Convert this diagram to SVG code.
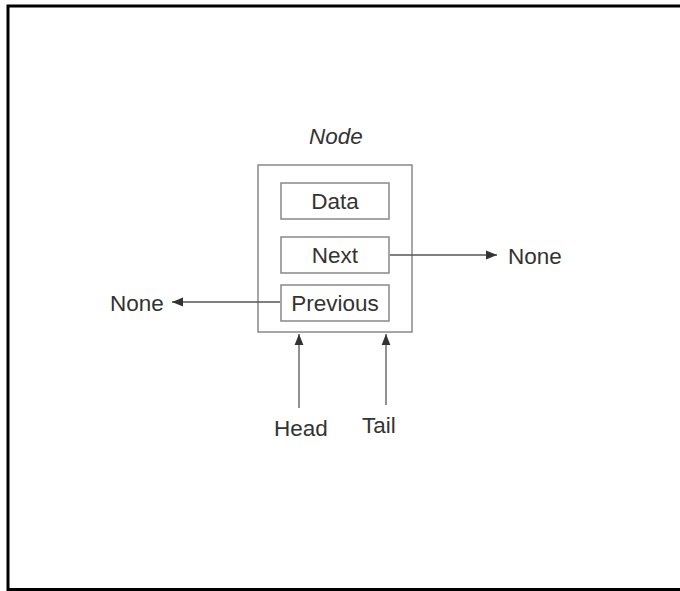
<svg xmlns="http://www.w3.org/2000/svg" width="680" height="591" viewBox="0 0 680 591">
<defs>
<style>
text{font-family:"Liberation Sans",Arial,sans-serif;font-size:22.5px;fill:#333}
.box{fill:#fff;stroke:#888;stroke-width:1.5}
.ln{stroke:#555;stroke-width:1.3;fill:none}
</style>
<marker id="ah" viewBox="0 0 10 10" refX="10" refY="5" markerWidth="11" markerHeight="11" markerUnits="userSpaceOnUse" orient="auto">
<path d="M0,1 L10,5 L0,9 Z" fill="#333"/>
</marker>
</defs>
<rect width="680" height="591" fill="#fff"/>
<path d="M8,591 V6 H680 M8,589.5 H680" fill="none" stroke="#000" stroke-width="3"/>
<g id="node">
<rect class="box" x="258" y="165" width="154" height="167"/>
<text x="336" y="144" text-anchor="middle" font-style="italic">Node</text>
</g>
<g id="data">
<rect class="box" x="281" y="183" width="108" height="36"/>
<text x="335" y="209" text-anchor="middle">Data</text>
</g>
<g id="next">
<rect class="box" x="281" y="237" width="108" height="36"/>
<text x="335" y="263" text-anchor="middle">Next</text>
</g>
<g id="previous">
<rect class="box" x="281" y="285" width="108" height="36"/>
<text x="335" y="311" text-anchor="middle">Previous</text>
</g>
<g id="none-right"><text x="508" y="264">None</text></g>
<g id="none-left"><text x="110" y="311">None</text></g>
<g id="head"><text x="301" y="436" text-anchor="middle">Head</text></g>
<g id="tail"><text x="379" y="433" text-anchor="middle">Tail</text></g>
<g id="connectors">
<line class="ln" x1="390" y1="255" x2="497" y2="255" marker-end="url(#ah)"/>
<line class="ln" x1="280" y1="302" x2="172" y2="302" marker-end="url(#ah)"/>
<line class="ln" x1="299" y1="408" x2="299" y2="334" marker-end="url(#ah)"/>
<line class="ln" x1="386" y1="405" x2="386" y2="334" marker-end="url(#ah)"/>
</g>
</svg>
